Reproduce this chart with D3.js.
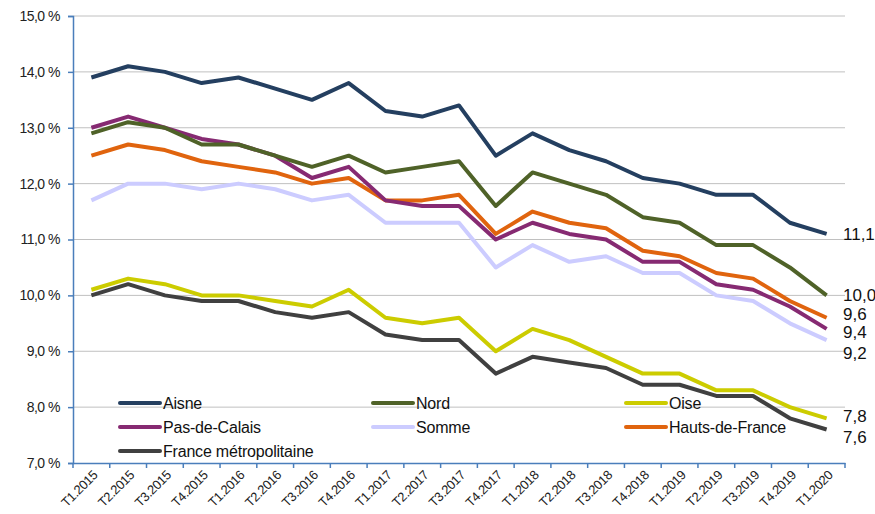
<!DOCTYPE html>
<html><head><meta charset="utf-8">
<script src="https://cdn.jsdelivr.net/npm/d3@7"></script>
<style>body{margin:0;background:#fff}svg{display:block}text{font-family:"Liberation Sans",Arial,sans-serif}</style>
</head><body><svg id="c" width="875" height="514"></svg>
<script>
const categories = ["T1.2015","T2.2015","T3.2015","T4.2015","T1.2016","T2.2016","T3.2016","T4.2016","T1.2017","T2.2017","T3.2017","T4.2017","T1.2018","T2.2018","T3.2018","T4.2018","T1.2019","T2.2019","T3.2019","T4.2019","T1.2020"];
const aisne = [13.9,14.1,14.0,13.8,13.9,13.7,13.5,13.8,13.3,13.2,13.4,12.5,12.9,12.6,12.4,12.1,12.0,11.8,11.8,11.3,11.1];
const nord = [12.9,13.1,13.0,12.7,12.7,12.5,12.3,12.5,12.2,12.3,12.4,11.6,12.2,12.0,11.8,11.4,11.3,10.9,10.9,10.5,10.0];
const oise = [10.1,10.3,10.2,10.0,10.0,9.9,9.8,10.1,9.6,9.5,9.6,9.0,9.4,9.2,8.9,8.6,8.6,8.3,8.3,8.0,7.8];
const pasDeCalais = [13.0,13.2,13.0,12.8,12.7,12.5,12.1,12.3,11.7,11.6,11.6,11.0,11.3,11.1,11.0,10.6,10.6,10.2,10.1,9.8,9.4];
const somme = [11.7,12.0,12.0,11.9,12.0,11.9,11.7,11.8,11.3,11.3,11.3,10.5,10.9,10.6,10.7,10.4,10.4,10.0,9.9,9.5,9.2];
const hautsDeFrance = [12.5,12.7,12.6,12.4,12.3,12.2,12.0,12.1,11.7,11.7,11.8,11.1,11.5,11.3,11.2,10.8,10.7,10.4,10.3,9.9,9.6];
const franceMetro = [10.0,10.2,10.0,9.9,9.9,9.7,9.6,9.7,9.3,9.2,9.2,8.6,8.9,8.8,8.7,8.4,8.4,8.2,8.2,7.8,7.6];
const yTicks = [7,8,9,10,11,12,13,14,15];
const endLabels = ["11,1","10,0","7,8","9,4","9,2","9,6","7,6"];

const series = [
  {name:"Aisne", values:aisne, color:"#243f60", end:endLabels[0], dy:0},
  {name:"Nord", values:nord, color:"#4f6228", end:endLabels[1], dy:0},
  {name:"Oise", values:oise, color:"#cccc00", end:endLabels[2], dy:-2},
  {name:"Pas-de-Calais", values:pasDeCalais, color:"#862a72", end:endLabels[3], dy:3},
  {name:"Somme", values:somme, color:"#ccccff", end:endLabels[4], dy:13},
  {name:"Hauts-de-France", values:hautsDeFrance, color:"#e0640e", end:endLabels[5], dy:-4},
  {name:"France métropolitaine", values:franceMetro, color:"#404040", end:endLabels[6], dy:8}
];

const svg = d3.select("#c");
const L = 73, R = 845, T = 16, B = 463;
const x = d3.scaleBand().domain(categories).range([L, R]);
const y = d3.scaleLinear().domain([7, 15]).range([B, T]);
const axisColor = "#4a7ebb";

// gridlines
svg.append("g").selectAll("line").data(yTicks.filter(d => d > 7)).join("line")
  .attr("x1", L).attr("x2", R).attr("y1", d => y(d)).attr("y2", d => y(d))
  .attr("stroke", "#c0c0c0").attr("stroke-width", 1);

// y axis
const yAxis = d3.axisLeft(y).tickValues(yTicks).tickSize(5).tickPadding(8)
  .tickFormat(d => d3.format(".1f")(d).replace(".", ",") + " %");
const gy = svg.append("g").attr("transform", `translate(${L},0)`).call(yAxis);
gy.select(".domain").attr("stroke", axisColor).attr("stroke-width", 1.5);
gy.selectAll(".tick line").attr("stroke", axisColor).attr("stroke-width", 1.5);
gy.selectAll(".tick text").attr("font-size", 14).attr("fill", "#222").attr("letter-spacing", "-0.5px");

// x axis
const xAxis = d3.axisBottom(x).tickSize(0).tickPadding(0);
const gx = svg.append("g").attr("transform", `translate(0,${B})`).call(xAxis);
gx.select(".domain").attr("stroke", axisColor).attr("stroke-width", 1.5);
gx.selectAll(".tick text")
  .attr("font-size", 13).attr("fill", "#222").attr("text-anchor", "end")
  .attr("dy", 0).attr("letter-spacing", "-0.4px")
  .attr("transform", "translate(7,13) rotate(-45)");
// category boundary ticks
gx.append("g").selectAll("line").data(d3.range(categories.length + 1)).join("line")
  .attr("x1", i => L + i * x.step()).attr("x2", i => L + i * x.step())
  .attr("y1", 0).attr("y2", 5).attr("stroke", axisColor).attr("stroke-width", 1.5);

// legend
const legCols = [120, 373, 626], legRows = [403, 427, 451];
const lg = svg.append("g");
series.forEach((s, i) => {
  const cx = legCols[i % 3], cy = legRows[Math.floor(i / 3)];
  lg.append("line").attr("x1", cx).attr("x2", cx + 40).attr("y1", cy).attr("y2", cy)
    .attr("stroke", s.color).attr("stroke-width", 4).attr("stroke-linecap", "round");
  lg.append("text").attr("x", cx + 43).attr("y", cy + 6).attr("font-size", 16).attr("fill", "#111")
    .attr("letter-spacing", "-0.2px").text(s.name);
});

// lines
const line = d3.line().x((d, i) => x(categories[i]) + x.bandwidth() / 2).y(d => y(d));
const order = [4, 6, 2, 5, 3, 1, 0];
order.forEach(i => {
  const s = series[i];
  svg.append("path").attr("d", line(s.values)).attr("fill", "none")
    .attr("stroke", s.color).attr("stroke-width", 4).attr("stroke-linejoin", "round");
});

// end labels
series.forEach(s => {
  const last = s.values[s.values.length - 1];
  svg.append("text").attr("x", 843).attr("y", y(last) + 6 + s.dy)
    .attr("font-size", 17).attr("fill", "#111").text(s.end);
});
</script></body></html>
